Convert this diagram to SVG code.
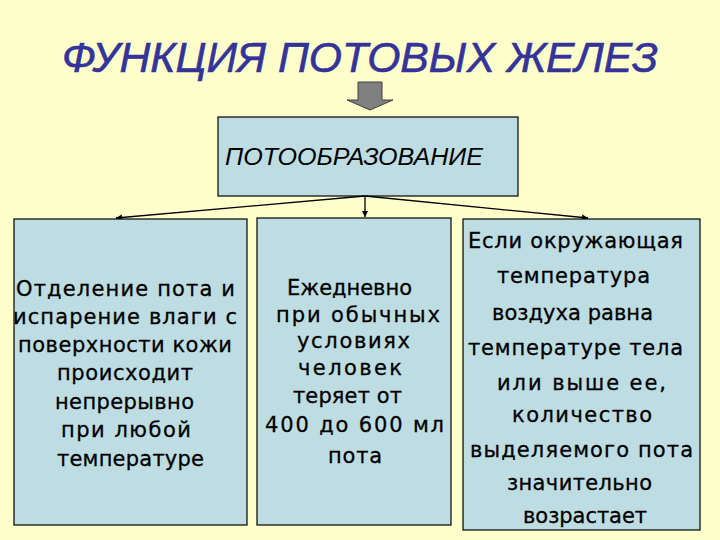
<svg xmlns="http://www.w3.org/2000/svg" width="720" height="540" viewBox="0 0 720 540">
<defs>
<marker id="ah" viewBox="0 0 10 10" refX="10" refY="5" markerWidth="7" markerHeight="6" orient="auto" markerUnits="userSpaceOnUse">
<path d="M0,0 L10,5 L0,10 z" fill="#000"/>
</marker>
</defs>
<style>
.box{fill:#BEDDE3;stroke:#000;stroke-width:1.2}
.t{font-family:"Comic Sans MS","DejaVu Sans",sans-serif;font-size:21px;fill:#000;stroke:#000;stroke-width:0.3;text-anchor:start}
.title{font-family:"Liberation Sans",Arial,sans-serif;font-style:italic;font-size:42px;fill:#333399;stroke:#333399;stroke-width:0.6}
.head{font-family:"Liberation Sans",Arial,sans-serif;font-style:italic;font-size:23px;fill:#000}
.conn{stroke:#000;stroke-width:1.3;fill:none;marker-end:url(#ah)}
</style>
<rect width="720" height="540" fill="#FFFFCC"/>
<g id="title">
<text class="title" x="62" y="72" textLength="596" lengthAdjust="spacingAndGlyphs">ФУНКЦИЯ ПОТОВЫХ ЖЕЛЕЗ</text>
</g>
<g id="block-arrow">
<path d="M358,82 H382 V100 H393 L370,110 L347,100 H358 Z" fill="#808080" stroke="#404040" stroke-width="1"/>
</g>
<g id="top">
<rect class="box" x="218" y="117" width="300" height="79"/>
<text class="head" x="225" y="165" textLength="258" lengthAdjust="spacingAndGlyphs">ПОТООБРАЗОВАНИЕ</text>
</g>
<g id="connectors">
<line class="conn" x1="365" y1="196" x2="116" y2="218"/>
<line class="conn" x1="365" y1="196" x2="365" y2="217"/>
<line class="conn" x1="365" y1="196" x2="588" y2="218"/>
</g>
<g id="left">
<rect class="box" x="14" y="219" width="233" height="306"/>
<text class="t" x="16" y="296" textLength="219">Отделение пота и</text>
<text class="t" x="13" y="324" textLength="224">испарение влаги с</text>
<text class="t" x="18" y="352" textLength="214">поверхности кожи</text>
<text class="t" x="57" y="380" textLength="136">происходит</text>
<text class="t" x="55" y="409" textLength="139">непрерывно</text>
<text class="t" x="61" y="437" textLength="130">при любой</text>
<text class="t" x="57" y="466" textLength="147">температуре</text>
</g>
<g id="middle">
<rect class="box" x="257" y="218" width="194" height="307"/>
<text class="t" x="287" y="295" textLength="125">Ежедневно</text>
<text class="t" x="276" y="322" textLength="164">при обычных</text>
<text class="t" x="297" y="348" textLength="113">условиях</text>
<text class="t" x="298" y="375" textLength="104">человек</text>
<text class="t" x="293" y="403" textLength="109">теряет от</text>
<text class="t" x="265" y="432" textLength="179">400 до 600 мл</text>
<text class="t" x="328" y="463" textLength="54">пота</text>
</g>
<g id="right">
<rect class="box" x="463" y="219" width="237" height="311"/>
<text class="t" x="468" y="248" textLength="215">Если окружающая</text>
<text class="t" x="497" y="283" textLength="153">температура</text>
<text class="t" x="492" y="320" textLength="161">воздуха равна</text>
<text class="t" x="468" y="355" textLength="215">температуре тела</text>
<text class="t" x="497" y="390" textLength="169">или выше ее,</text>
<text class="t" x="512" y="422" textLength="140">количество</text>
<text class="t" x="470" y="457" textLength="223">выделяемого пота</text>
<text class="t" x="507" y="490" textLength="145">значительно</text>
<text class="t" x="523" y="523" textLength="124">возрастает</text>
</g>
</svg>
